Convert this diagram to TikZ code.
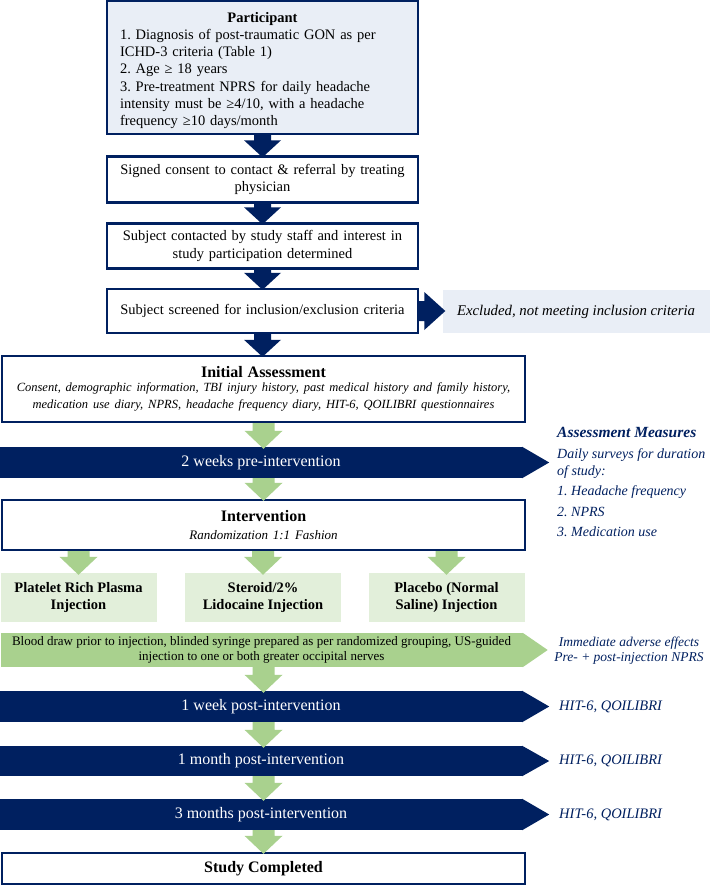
\documentclass[tikz,border=0pt]{standalone}
\usepackage{fontspec}
\setmainfont{Liberation Serif}
\usetikzlibrary{calc}
\frenchspacing
\definecolor{navy}{HTML}{002060}
\definecolor{garrow}{HTML}{A9D18E}
\definecolor{gbox}{HTML}{E2EFDA}
\definecolor{lblue}{HTML}{E9EEF6}
\newcommand{\fatdown}[6]{%
  \fill[#1] let \p1=#5, \p2=#6 in
    (\x1-#2,\y1) -- (\x1+#2,\y1) -- (\x1+#2,\y2+#4) -- (\x1+#3,\y2+#4)
    -- (\x1,\y2-2pt) -- (\x1-#3,\y2+#4) -- (\x1-#2,\y2+#4) -- cycle;}
\newcommand{\fatright}[6]{%
  \fill[#1] let \p1=#5, \p2=#6 in
    (\x1,\y1+#2) -- (\x1,\y1-#2) -- (\x2-#4,\y1-#2) -- (\x2-#4,\y1-#3)
    -- (\x2+3pt,\y1) -- (\x2-#4,\y1+#3) -- (\x2-#4,\y1+#2) -- cycle;}
\begin{document}
\begin{tikzpicture}[x=1pt,y=-1pt,
  txt/.style={font=\fontsize{14.5}{17.5}\selectfont},
  flowbox/.style={draw=navy,line width=2.4pt,fill=white,rectangle,inner sep=0pt,align=center,txt},
  gbx/.style={fill=gbox,rectangle,inner sep=0pt,align=center,
     minimum width=156pt,minimum height=49pt,font=\bfseries\fontsize{14.5}{17.5}\selectfont},
  bar/.style={fill=navy,rectangle,inner sep=0pt,text=white,minimum width=522pt,
     align=center,font=\fontsize{16}{18}\selectfont},
  side/.style={text=navy,inner sep=0pt,font=\itshape\fontsize{14}{17}\selectfont},
]
\useasboundingbox (0,0) rectangle (709,885);
\fill[white] (0,0) rectangle (709,885);

% boxes
\node[flowbox,fill=lblue,minimum width=311pt,minimum height=133pt,text width=285pt,align=left,
  font=\fontsize{14.5}{17.3}\selectfont]
  (part) at (262.5,67.5)
  {\makebox[\linewidth]{\rule{0pt}{16pt}\bfseries Participant}\\
   1. Diagnosis of post-traumatic GON as per\\
   ICHD-3 criteria (Table 1)\\
   2. Age ≥ 18 years\\
   3. Pre-treatment NPRS for daily headache\\
   intensity must be ≥4/10, with a headache\\
   frequency ≥10 days/month};
\node[flowbox,minimum width=311pt,minimum height=46pt,text width=295pt] (signed) at (262.5,179.5)
  {Signed consent to contact \& referral by treating\\ physician};
\node[flowbox,minimum width=311pt,minimum height=45pt,text width=295pt] (contact) at (262.5,246)
  {Subject contacted by study staff and interest in\\ study participation determined};
\node[flowbox,minimum width=311pt,minimum height=44pt,text width=295pt] (screen) at (262.5,311)
  {Subject screened for inclusion/exclusion criteria};
\node[fill=lblue,rectangle,minimum width=267pt,minimum height=43pt,inner sep=0pt,
  font=\itshape\fontsize{14.8}{17.5}\selectfont] (excl) at (576,311.5)
  {Excluded, not meeting inclusion criteria};
\node[flowbox,minimum width=523pt,minimum height=66pt,text width=515pt] (init) at (263.5,389)
  {{\bfseries\fontsize{16}{19}\selectfont Initial Assessment}\\[-1pt]
   {\itshape\fontsize{12.5}{15}\selectfont Consent, demographic information, TBI injury history, past medical history and family history,\\
   medication use diary, NPRS, headache frequency diary, HIT-6, QOILIBRI questionnaires}};

\node[bar,minimum height=31pt] (pre) at (261,462.5) {2 weeks pre-intervention};
\fill[navy] (pre.north east) -- ($(pre.east)+(27,0)$) -- (pre.south east) -- cycle;

\node[flowbox,minimum width=523pt,minimum height=50pt,text width=515pt] (interv) at (263.5,525)
  {{\bfseries\fontsize{16}{19}\selectfont Intervention}\\
   {\itshape\fontsize{13}{15}\selectfont Randomization 1:1 Fashion}};

\node[gbx] (prp) at (78.5,597.5) {Platelet Rich Plasma\\ Injection};
\node[gbx] (ster) at (263,597.5) {Steroid/2\%\\ Lidocaine Injection};
\node[gbx] (plac) at (446.5,597.5) {Placebo (Normal\\ Saline) Injection};

\node[bar,fill=garrow,text=black,minimum height=34pt,font=\fontsize{13}{14.5}\selectfont] (blood) at (261.5,650)
  {Blood draw prior to injection, blinded syringe prepared as per randomized grouping, US-guided\\
   injection to one or both greater occipital nerves};
\fill[garrow] (blood.north east) -- ($(blood.east)+(25,0)$) -- (blood.south east) -- cycle;

\node[bar,minimum height=31pt] (w1) at (261,706.5) {1 week post-intervention};
\fill[navy] (w1.north east) -- ($(w1.east)+(27,0)$) -- (w1.south east) -- cycle;
\node[bar,minimum height=30pt] (m1) at (261,761) {1 month post-intervention};
\fill[navy] (m1.north east) -- ($(m1.east)+(27,0)$) -- (m1.south east) -- cycle;
\node[bar,minimum height=31pt] (m3) at (261,814.5) {3 months post-intervention};
\fill[navy] (m3.north east) -- ($(m3.east)+(27,0)$) -- (m3.south east) -- cycle;

\node[flowbox,minimum width=523pt,minimum height=31pt] (done) at (263.5,868.5)
  {\bfseries\fontsize{16}{19}\selectfont Study Completed};

% side texts
\node[side,anchor=north west,align=left] (meas) at (557,427)
  {{\bfseries\fontsize{15.5}{17}\selectfont Assessment Measures}\\[4pt]
   Daily surveys for duration\\ of study:\\[3pt]
   1. Headache frequency\\[4pt]
   2. NPRS\\[3pt]
   3. Medication use};
\node[side,align=center,font=\itshape\fontsize{13.5}{15}\selectfont] (adv) at (629,651)
  {Immediate adverse effects\\ Pre- + post-injection NPRS};
\node[side,anchor=west,font=\itshape\fontsize{14.5}{17}\selectfont] (h1) at (559,706.5) {HIT-6, QOILIBRI};
\node[side,anchor=west,font=\itshape\fontsize{14.5}{17}\selectfont] (h2) at (559,761) {HIT-6, QOILIBRI};
\node[side,anchor=west,font=\itshape\fontsize{14.5}{17}\selectfont] (h3) at (559,814.5) {HIT-6, QOILIBRI};

% arrows
\fatdown{navy}{8.5pt}{18.5pt}{15pt}{(part.south)}{(signed.north)}
\fatdown{navy}{8.5pt}{18.5pt}{15pt}{(signed.south)}{(contact.north)}
\fatdown{navy}{8.5pt}{18.5pt}{15pt}{(contact.south)}{(screen.north)}
\fatdown{navy}{8.5pt}{18.5pt}{15pt}{(screen.south)}{(init.north)}
\fatright{navy}{10pt}{19pt}{18pt}{(screen.east)}{(excl.west)}
\fatdown{garrow}{11pt}{19pt}{16pt}{(init.south)}{(pre.north -| init.south)}
\fatdown{garrow}{11pt}{19pt}{16pt}{(pre.south -| interv.north)}{(interv.north)}
\fatdown{garrow}{11pt}{19pt}{16pt}{(interv.south -| prp.north)}{(prp.north)}
\fatdown{garrow}{11pt}{19pt}{16pt}{(interv.south -| ster.north)}{(ster.north)}
\fatdown{garrow}{11pt}{19pt}{16pt}{(interv.south -| plac.north)}{(plac.north)}
\fatdown{garrow}{11pt}{19pt}{16pt}{(blood.south -| done.north)}{(w1.north -| done.north)}
\fatdown{garrow}{11pt}{19pt}{16pt}{(w1.south -| done.north)}{(m1.north -| done.north)}
\fatdown{garrow}{11pt}{19pt}{16pt}{(m1.south -| done.north)}{(m3.north -| done.north)}
\fatdown{garrow}{11pt}{19pt}{16pt}{(m3.south -| done.north)}{(done.north)}
\end{tikzpicture}
\end{document}
